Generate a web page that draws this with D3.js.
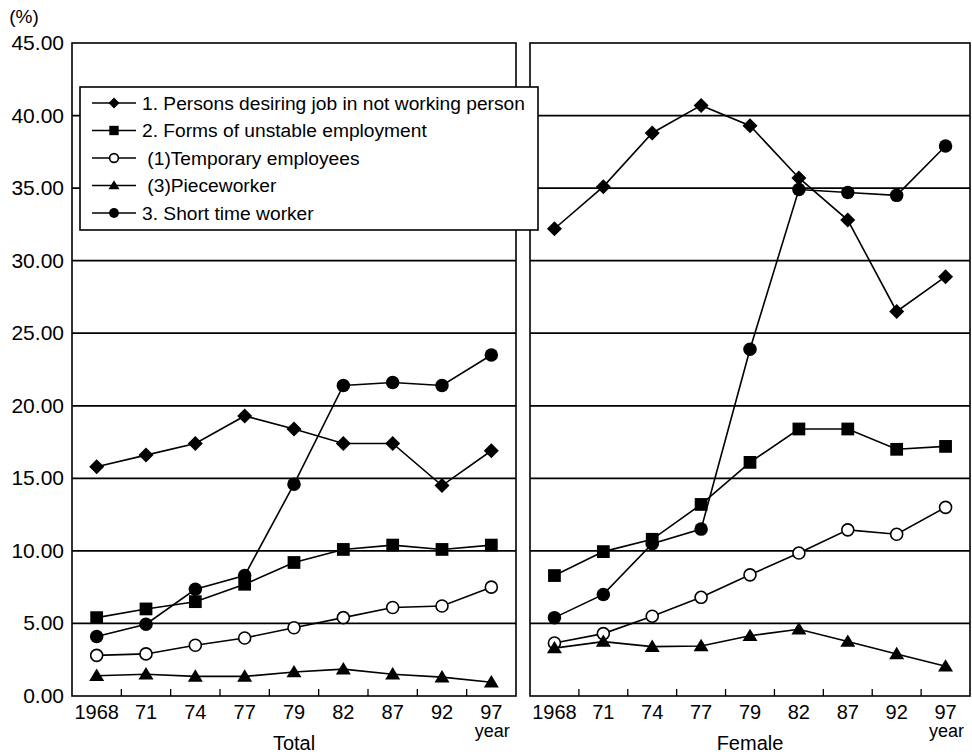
<!DOCTYPE html>
<html>
<head>
<meta charset="utf-8">
<script src="https://cdn.jsdelivr.net/npm/d3@7"></script>
<style>
  body { margin: 0; background: #fff; }
  svg { display: block; font-family: "Liberation Sans", Arial, sans-serif; }
</style>
</head>
<body>
<svg id="chart" width="972" height="754"></svg>
<script>
// -------------------------------------------------------------------------
// Data

const years = ['1968', '71', '74', '77', '79', '82', '87', '92', '97'];
const yTicks = [0, 5, 10, 15, 20, 25, 30, 35, 40, 45];

const seriesNames = [
  '1. Persons desiring job in not working person',
  '2. Forms of unstable employment',
  ' (1)Temporary employees',
  ' (3)Pieceworker',
  '3. Short time worker'
];
const seriesMarks = ['diamond', 'square', 'open', 'triangle', 'circle'];

// Total
const totalDesiring = [15.8, 16.6, 17.4, 19.3, 18.4, 17.4, 17.4, 14.5, 16.9];
const totalUnstable = [5.4, 6.0, 6.5, 7.7, 9.2, 10.1, 10.4, 10.1, 10.4];
const totalTemporary = [2.8, 2.9, 3.5, 4.0, 4.7, 5.4, 6.1, 6.2, 7.5];
const totalPiece = [1.4, 1.5, 1.35, 1.35, 1.65, 1.85, 1.5, 1.3, 0.95];
const totalShort = [4.1, 4.95, 7.35, 8.3, 14.6, 21.4, 21.6, 21.4, 23.5];

// Female
const femaleDesiring = [32.2, 35.1, 38.8, 40.7, 39.3, 35.7, 32.8, 26.5, 28.9];
const femaleUnstable = [8.3, 9.95, 10.8, 13.2, 16.1, 18.4, 18.4, 17.0, 17.2];
const femaleTemporary = [3.65, 4.3, 5.5, 6.8, 8.35, 9.85, 11.45, 11.15, 13.0];
const femalePiece = [3.3, 3.75, 3.4, 3.45, 4.15, 4.6, 3.75, 2.9, 2.05];
const femaleShort = [5.4, 7.0, 10.5, 11.5, 23.9, 34.9, 34.7, 34.5, 37.9];

// -------------------------------------------------------------------------
// Layout

const plotTop = 43;
const plotBottom = 696;
const panels = [
  { label: 'Total', x0: 72, x1: 516, axis: true,
    data: [totalDesiring, totalUnstable, totalTemporary, totalPiece, totalShort] },
  { label: 'Female', x0: 530, x1: 970, axis: false,
    data: [femaleDesiring, femaleUnstable, femaleTemporary, femalePiece, femaleShort] }
];

const svg = d3.select('#chart');

let y = d3.scaleLinear().domain([0, 45]).range([plotBottom, plotTop]);

// draws one marker at (cx, cy)
function marker(g, kind, cx, cy, s) {
  if (kind === 'diamond') {
    g.append('path')
      .attr('d', `M${cx},${cy - s}L${cx + s},${cy}L${cx},${cy + s}L${cx - s},${cy}Z`)
      .attr('fill', '#000');
  } else if (kind === 'square') {
    g.append('rect')
      .attr('x', cx - s * 0.85).attr('y', cy - s * 0.85)
      .attr('width', s * 1.7).attr('height', s * 1.7)
      .attr('fill', '#000');
  } else if (kind === 'triangle') {
    g.append('path')
      .attr('d', `M${cx},${cy - s * 0.95}L${cx + s},${cy + s * 0.7}L${cx - s},${cy + s * 0.7}Z`)
      .attr('fill', '#000');
  } else if (kind === 'circle') {
    g.append('circle').attr('cx', cx).attr('cy', cy).attr('r', s * 0.9)
      .attr('fill', '#000');
  } else {
    g.append('circle').attr('cx', cx).attr('cy', cy).attr('r', s * 0.8)
      .attr('fill', '#fff').attr('stroke', '#000').attr('stroke-width', 1.6);
  }
}

panels.forEach(p => {
  let x = d3.scalePoint().domain(years).range([p.x0, p.x1]).padding(0.5);
  let step = x.step();
  let g = svg.append('g');

  // gridlines
  g.selectAll('line.grid')
    .data(yTicks.slice(1, -1))
    .enter()
    .append('line')
    .attr('x1', p.x0).attr('x2', p.x1)
    .attr('y1', d => y(d)).attr('y2', d => y(d))
    .attr('stroke', '#000').attr('stroke-width', 1.8);

  // frame
  g.append('rect')
    .attr('x', p.x0).attr('y', plotTop)
    .attr('width', p.x1 - p.x0).attr('height', plotBottom - plotTop)
    .attr('fill', 'none').attr('stroke', '#000').attr('stroke-width', 1.6);

  // inner ticks between categories
  g.selectAll('line.tick')
    .data(years.slice(0, -1))
    .enter()
    .append('line')
    .attr('x1', d => x(d) + step / 2).attr('x2', d => x(d) + step / 2)
    .attr('y1', plotBottom).attr('y2', plotBottom - 7)
    .attr('stroke', '#000').attr('stroke-width', 1.3);

  // x labels
  g.selectAll('text.xl')
    .data(years)
    .enter()
    .append('text')
    .attr('x', d => x(d)).attr('y', 719)
    .attr('text-anchor', 'middle')
    .attr('font-size', 20)
    .text(d => d);
  g.append('text')
    .attr('x', x('97') + 1).attr('y', 737)
    .attr('text-anchor', 'middle')
    .attr('font-size', 18)
    .text('year');
  g.append('text')
    .attr('x', (p.x0 + p.x1) / 2).attr('y', 750)
    .attr('text-anchor', 'middle')
    .attr('font-size', 20)
    .text(p.label);

  // y labels
  if (p.axis) {
    g.selectAll('text.yl')
      .data(yTicks)
      .enter()
      .append('text')
      .attr('x', 64).attr('y', d => y(d) + 7)
      .attr('text-anchor', 'end')
      .attr('font-size', 21)
      .text(d => d.toFixed(2));
  }

  // series
  let line = d3.line().x((d, i) => x(years[i])).y(d => y(d));
  p.data.forEach((vals, si) => {
    let sg = g.append('g');
    sg.append('path')
      .attr('d', line(vals))
      .attr('fill', 'none').attr('stroke', '#000').attr('stroke-width', 1.6);
    vals.forEach((v, i) => marker(sg, seriesMarks[si], x(years[i]), y(v), 7.5));
  });
});

// (%) unit label
svg.append('text')
  .attr('x', 24).attr('y', 23)
  .attr('text-anchor', 'middle')
  .attr('font-size', 19)
  .text('(%)');

// -------------------------------------------------------------------------
// Legend

let lg = svg.append('g');
lg.append('rect')
  .attr('x', 80).attr('y', 87)
  .attr('width', 458).attr('height', 143)
  .attr('fill', '#fff').attr('stroke', '#000').attr('stroke-width', 1.6);

seriesNames.forEach((name, i) => {
  let ly = 103 + i * 27.5;
  lg.append('line')
    .attr('x1', 92).attr('x2', 136)
    .attr('y1', ly).attr('y2', ly)
    .attr('stroke', '#000').attr('stroke-width', 1.6);
  marker(lg, seriesMarks[i], 114, ly, 5.5);
  lg.append('text')
    .attr('x', 142).attr('y', ly + 6.5)
    .attr('font-size', 19.2)
    .attr('xml:space', 'preserve')
    .style('white-space', 'pre')
    .text(name);
});
</script>
</body>
</html>
